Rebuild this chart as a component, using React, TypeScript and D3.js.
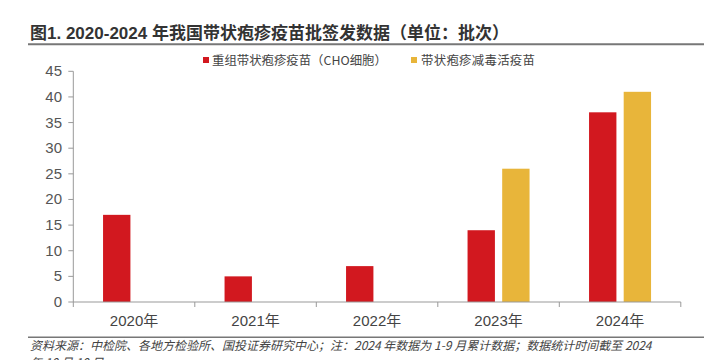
import React from "react";
import * as d3 from "d3";

const years = ["2020年", "2021年", "2022年", "2023年", "2024年"];
const seriesNames = ["重组带状疱疹疫苗（CHO细胞）", "带状疱疹减毒活疫苗"];
const recombinant = [17, 5, 7, 14, 37];
const liveAttenuated = [0, 0, 0, 26, 41];
const yTicks = [0, 5, 10, 15, 20, 25, 30, 35, 40, 45];
const colors = ["#D2181F", "#E8B53A"];

const W = 721;
const H = 360;
const left = 73.3;
const right = 680.8;
const top = 71.3;
const bottom = 302;

export default function App() {
  const x0 = d3.scaleBand<string>().domain(years).range([left, right]).padding(0);
  const bw = x0.bandwidth();
  const x1 = d3
    .scaleBand<string>()
    .domain(seriesNames)
    .range([bw / 2 - 31, bw / 2 + 31])
    .paddingInner(0.21)
    .paddingOuter(0);
  const y = d3.scaleLinear().domain([0, 45]).range([bottom, top]);
  const data = [recombinant, liveAttenuated];
  const sans = "'Liberation Sans', Arial, 'Noto Sans CJK SC', sans-serif";
  const cjk = "'Noto Sans CJK SC', sans-serif";

  return (
    <svg width={W} height={H} style={{ position: "absolute", left: 0, top: 0, background: "#fff" }}>
      <text x={30} y={39} fontFamily={sans} fontWeight="bold" fontSize={17} fill="#333">
        图1. 2020-2024 年我国带状疱疹疫苗批签发数据（单位：批次）
      </text>
      <line x1={28} x2={704} y1={44.3} y2={44.3} stroke="#777" strokeWidth={2} />

      {/* legend */}
      <rect x={203} y={57} width={6} height={6} fill={colors[0]} />
      <text x={212} y={64.5} fontFamily={cjk} fontSize={12.4} fill="#444">{seriesNames[0]}</text>
      <rect x={411} y={57} width={6} height={6} fill={colors[1]} />
      <text x={421} y={64.5} fontFamily={cjk} fontSize={12.4} letterSpacing={0.3} fill="#444">{seriesNames[1]}</text>

      {/* y axis */}
      <line x1={left} x2={left} y1={top} y2={bottom} stroke="#999" />
      {yTicks.map((t) => (
        <g key={t}>
          <line x1={left - 5} x2={left} y1={y(t)} y2={y(t)} stroke="#999" />
          <text x={62} y={y(t) + 5} textAnchor="end" fontFamily={sans} fontSize={15} fill="#555">
            {t}
          </text>
        </g>
      ))}

      {/* bars */}
      {data.map((vals, si) =>
        vals.map((v, i) =>
          v > 0 ? (
            <rect
              key={`${si}-${i}`}
              x={(x0(years[i]) as number) + (x1(seriesNames[si]) as number)}
              y={y(v)}
              width={x1.bandwidth()}
              height={bottom - y(v)}
              fill={colors[si]}
            />
          ) : null
        )
      )}

      {/* x axis */}
      <line x1={left} x2={right} y1={bottom} y2={bottom} stroke="#999" />
      {years.map((yr, i) => (
        <line
          key={"t" + i}
          x1={x0(yr) as number}
          x2={x0(yr) as number}
          y1={bottom}
          y2={bottom + 5}
          stroke="#999"
        />
      ))}
      <line x1={right} x2={right} y1={bottom} y2={bottom + 5} stroke="#999" />
      {years.map((yr) => (
        <text
          key={yr}
          x={(x0(yr) as number) + bw / 2}
          y={326}
          textAnchor="middle"
          fontFamily={sans}
          fontSize={15}
          fill="#444"
        >
          {yr}
        </text>
      ))}

      <line x1={28} x2={704} y1={337.3} y2={337.3} stroke="#777" strokeWidth={1.5} />
      <text x={30} y={350} fontFamily={cjk} fontStyle="italic" fontSize={12} fill="#444">
        资料来源：中检院、各地方检验所、国投证券研究中心；注：2024 年数据为 1-9 月累计数据；数据统计时间截至 2024
      </text>
      <text x={30} y={367} fontFamily={cjk} fontStyle="italic" fontSize={12} fill="#444">
        年 10 月 10 日
      </text>
    </svg>
  );
}
